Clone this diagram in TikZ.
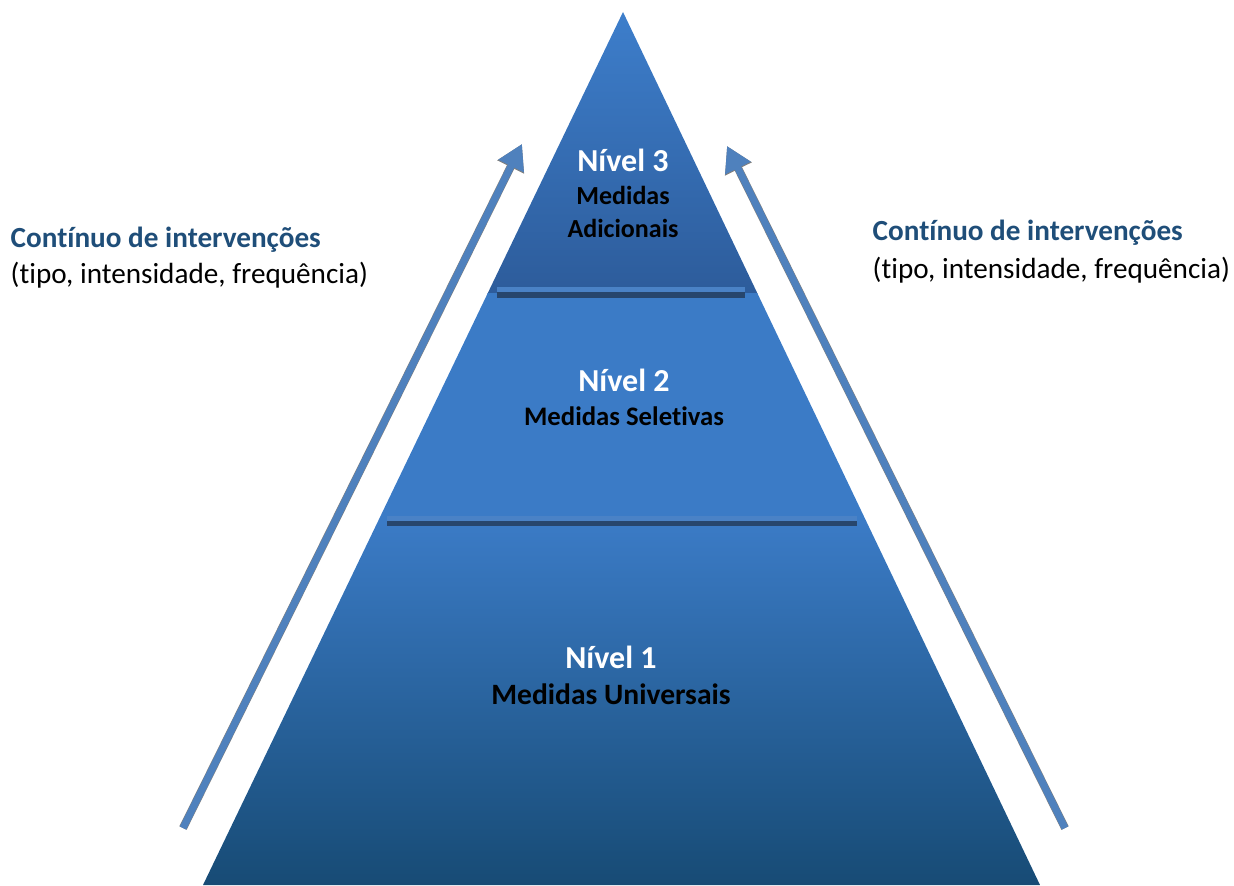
\documentclass[tikz,border=0pt]{standalone}
\usepackage{fontspec}
\setmainfont{Carlito}[RawFeature={-liga;-clig;-calt;-dlig}]
\usetikzlibrary{arrows.meta}
\definecolor{lvlblue}{HTML}{3B7BC6}
\definecolor{lvldark}{HTML}{174B75}
\definecolor{topdark}{HTML}{2D5C9B}
\definecolor{toplight}{HTML}{3D7ECB}
\definecolor{sepdark}{HTML}{27466D}
\definecolor{seplight}{HTML}{4A82C6}
\definecolor{arrowblue}{HTML}{4F81BD}
\definecolor{headblue}{HTML}{1F4E79}

\begin{document}
\begin{tikzpicture}[x=0.01cm,y=-0.01cm,
every node/.style={align=center,inner sep=0pt},
level/.style={text=white,font=\fontsize{9.1}{10}\selectfont\bfseries},
measure/.style={font=\fontsize{7.5}{9.4}\selectfont\bfseries},
cont/.style={anchor=west,font=\fontsize{8.3}{10}\selectfont},
rise/.style={arrowblue,line width=2pt,-{Triangle[width=7.6pt,length=7pt]}},
rise shadow/.style={black!50,line width=2.3pt,-{Triangle[width=8pt,length=7.3pt]}}]
\useasboundingbox (0,0) rectangle (1234,885);

% pyramid
\coordinate (top) at (623,12);
\coordinate (baseL) at (203,885);
\coordinate (baseR) at (1040,885);
\begin{scope}
\clip (top) -- (baseR) -- (baseL) -- cycle;
\shade[top color=toplight,bottom color=topdark] (200,12) rectangle (1045,293);
\fill[lvlblue] (200,293) rectangle (1045,521);
\shade[top color=lvlblue,bottom color=lvldark] (200,521) rectangle (1045,885);
\end{scope}

% separators
\fill[seplight] (497,287) rectangle (745,292);
\fill[sepdark] (497,292) rectangle (745,298);
\fill[seplight] (387,516) rectangle (857,521);
\fill[sepdark] (387,521) rectangle (857,526);

% arrows
\coordinate (l0) at (183,828);
\coordinate (l1) at (522,144);
\coordinate (r0) at (1065,828);
\coordinate (r1) at (727,146);
\begin{scope}[shift={(1.5,2.5)}]
\draw[rise shadow] (l0) -- (l1);
\draw[rise shadow] (r0) -- (r1);
\end{scope}
\draw[rise] (l0) -- (l1);
\draw[rise] (r0) -- (r1);

% labels
\node[level] (n3) at (623,160) {Nível 3};
\node[measure,font=\fontsize{7.4}{9.4}\selectfont\bfseries] (m3) at (623,212) {Medidas\\Adicionais};
\node[level] (n2) at (624,380) {Nível 2};
\node[measure,font=\fontsize{7.6}{9.4}\selectfont\bfseries] (m2) at (624,416) {Medidas Seletivas};
\node[level] (n1) at (611,657) {Nível 1};
\node[measure,font=\fontsize{8.4}{9.4}\selectfont\bfseries] (m1) at (611,694) {Medidas Universais};

\node[cont,text=headblue,font=\fontsize{8.3}{10}\selectfont\bfseries] (cl) at (10,240) {Contínuo de intervenções};
\node[cont] (tl) at (10,275) {(tipo, intensidade, frequência)};
\node[cont,text=headblue,font=\fontsize{8.3}{10}\selectfont\bfseries] (cr) at (872,233) {Contínuo de intervenções};
\node[cont] (tr) at (872,270) {(tipo, intensidade, frequência)};
\end{tikzpicture}
\end{document}
